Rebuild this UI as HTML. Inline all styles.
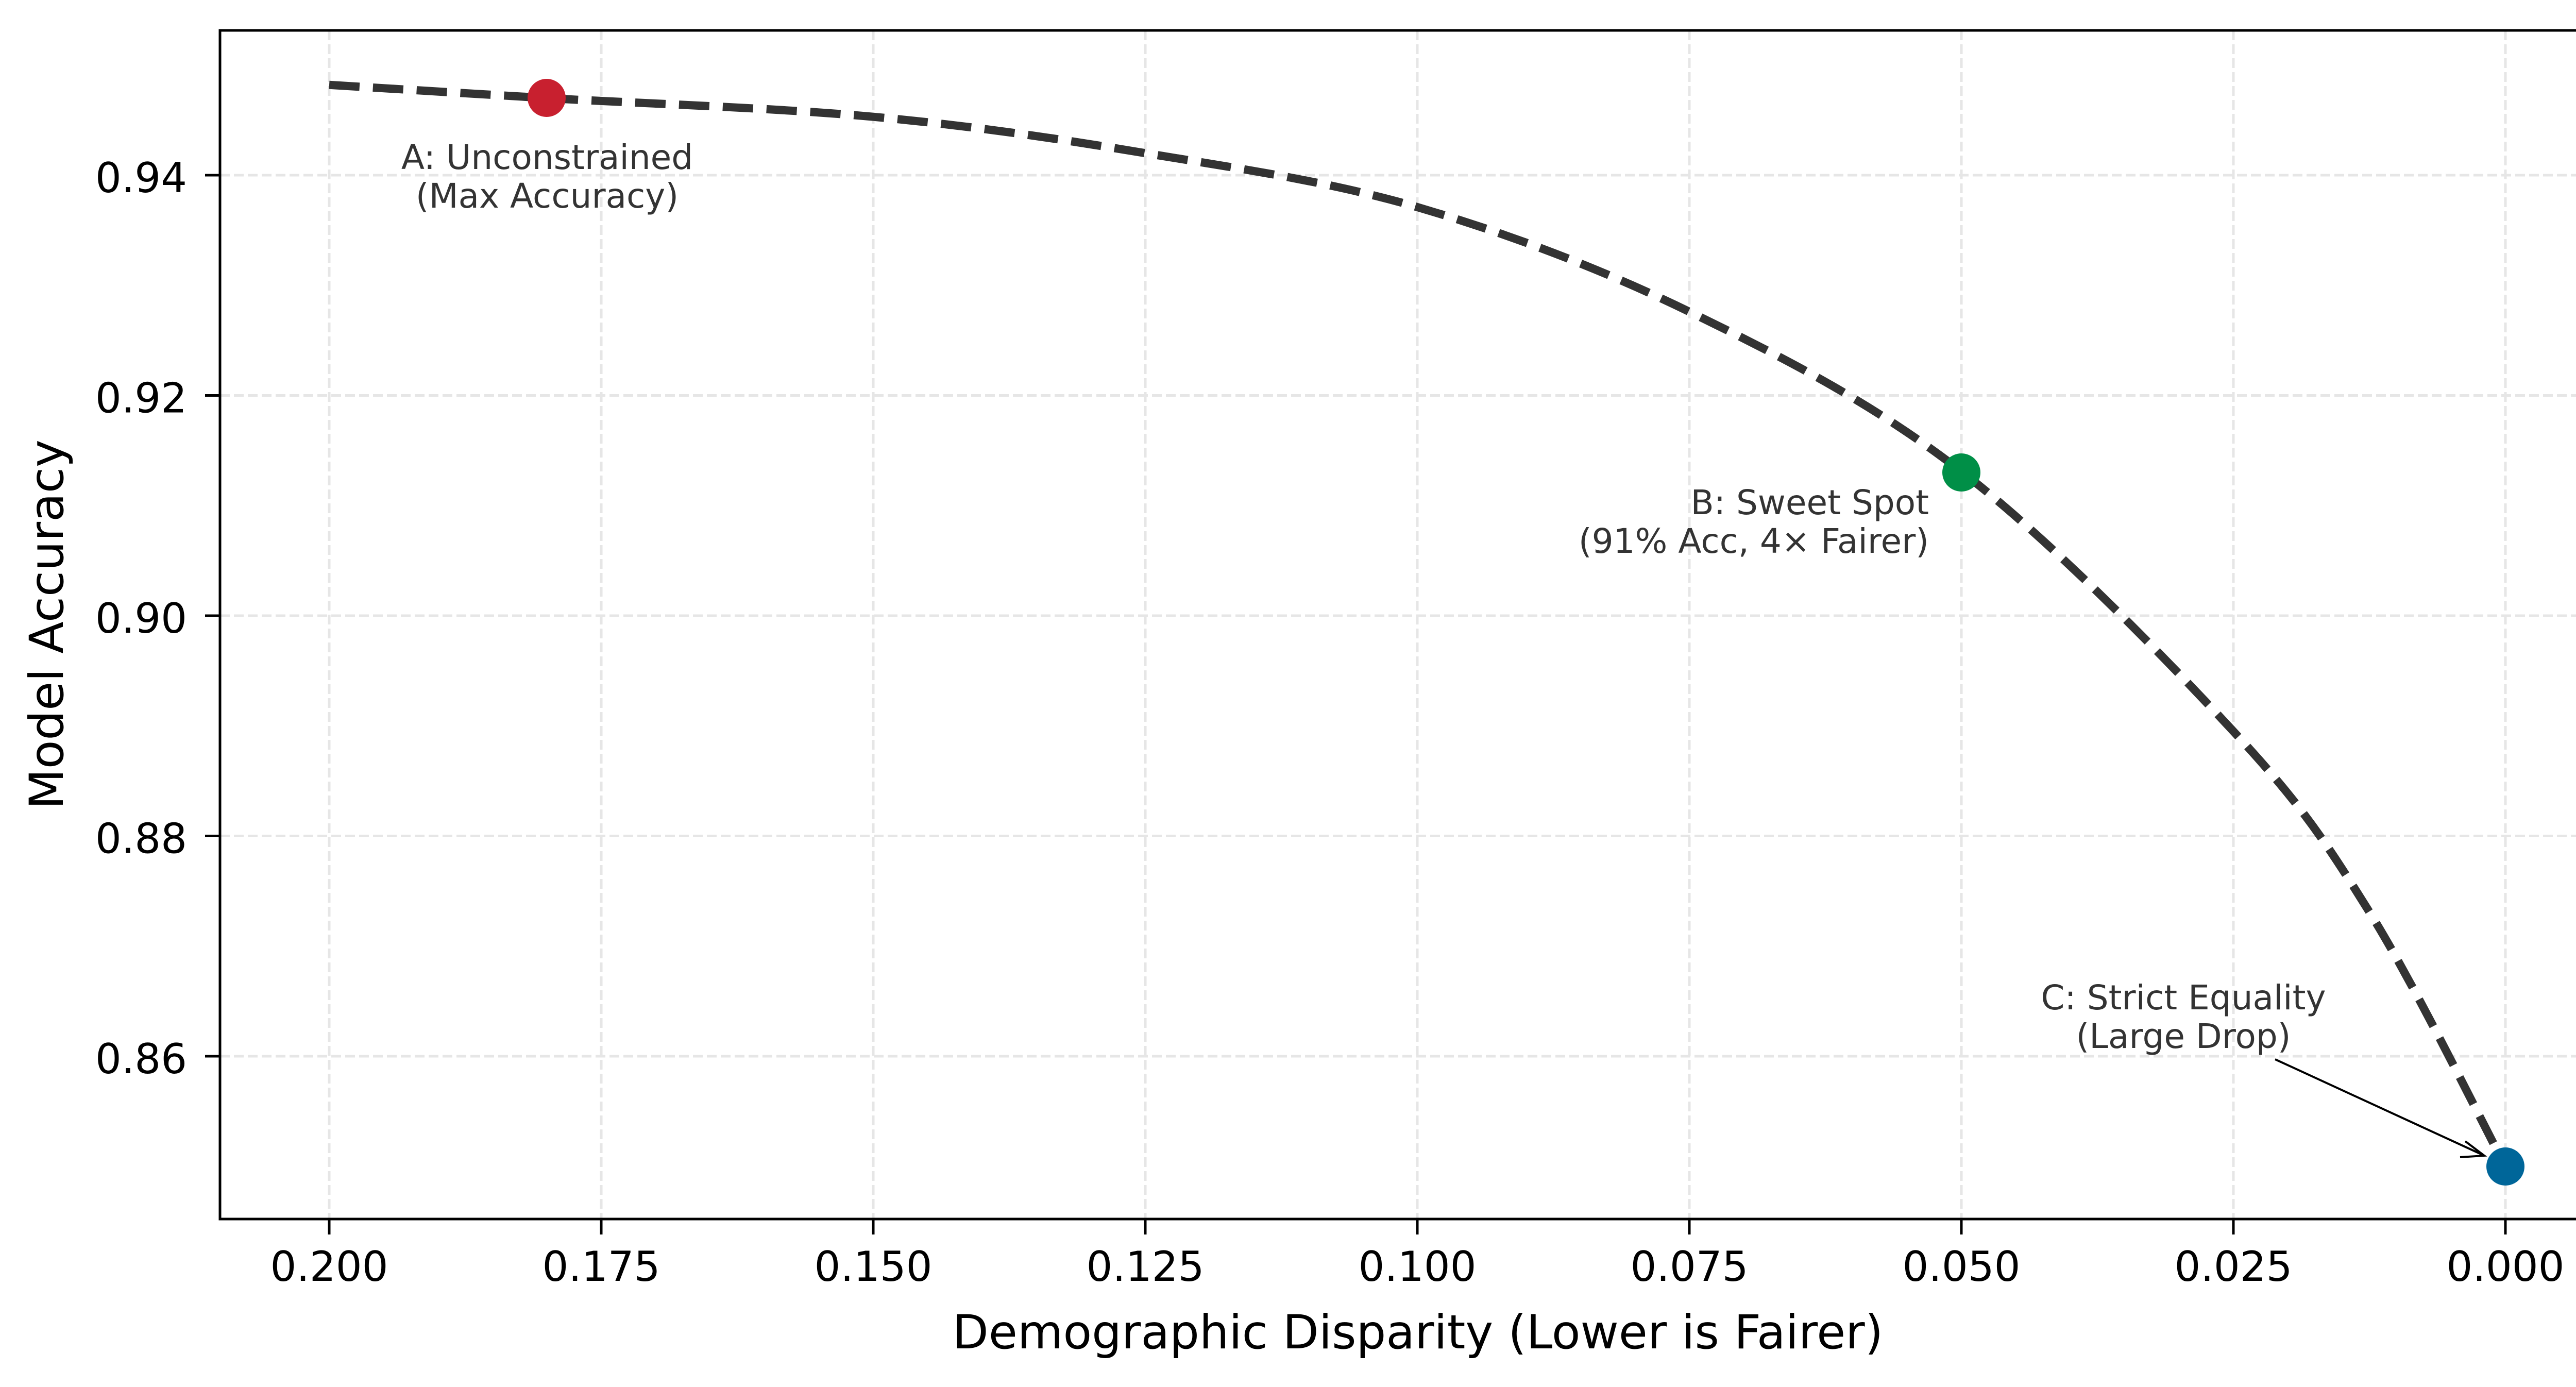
<!DOCTYPE html>
<html><head><meta charset="utf-8"><style>
html,body{margin:0;padding:0;background:#fff;}
svg{display:block;font-family:"DejaVu Sans","Liberation Sans",sans-serif;}
</style></head><body>
<svg id="s" width="5137" height="2692" viewBox="0 0 5137 2692" xmlns="http://www.w3.org/2000/svg">
<rect width="5137" height="2692" fill="#fff"/>
<g id="grid" stroke="#e6e6e6" stroke-width="5" stroke-dasharray="19,8"></g>
<path id="curve" fill="none" stroke="#333" stroke-width="16" stroke-dasharray="59,26"/>
<line x1="4416" y1="2056" x2="4820" y2="2242" stroke="#000" stroke-width="4"/>
<path d="M4785,2215 L4822,2243 L4775,2246" fill="none" stroke="#000" stroke-width="4"/>
<circle cx="1061" cy="190" r="37" fill="#c8202f"/>
<circle cx="3807" cy="917" r="37" fill="#008f47"/>
<circle cx="4863" cy="2264" r="37" fill="#006699"/>
<g fill="#333" font-size="66">
<text x="1062" y="328" text-anchor="middle">A: Unconstrained</text>
<text x="1062" y="403" text-anchor="middle">(Max Accuracy)</text>
<text x="3744" y="998" text-anchor="end">B: Sweet Spot</text>
<text x="3744" y="1073" text-anchor="end">(91% Acc, 4× Fairer)</text>
<text x="4238" y="1959" text-anchor="middle">C: Strict Equality</text>
<text x="4238" y="2034" text-anchor="middle">(Large Drop)</text>
</g>
<rect x="427" y="59" width="4646" height="2307" fill="none" stroke="#000" stroke-width="5"/>
<g id="ticks" stroke="#000" stroke-width="5"></g>
<g id="labels" font-size="80" fill="#000"></g>
<text x="2752" y="2617" font-size="91" text-anchor="middle">Demographic Disparity (Lower is Fairer)</text>
<text transform="translate(122,1212) rotate(-90)" font-size="91" text-anchor="middle">Model Accuracy</text>
</svg>
<script>
var NS="http://www.w3.org/2000/svg";
function X(d){return 639+(0.2-d)*21120;}
function Y(v){return 340+(0.94-v)/0.02*427.5;}
function el(p,t,a,txt){var e=document.createElementNS(NS,t);for(var k in a)e.setAttribute(k,a[k]);if(txt)e.textContent=txt;document.getElementById(p).appendChild(e);}
var xs=[0.2,0.175,0.15,0.125,0.1,0.075,0.05,0.025,0];
xs.forEach(function(d){var x=X(d);
el("grid","line",{x1:x,y1:59,x2:x,y2:2366});
el("ticks","line",{x1:x,y1:2366,x2:x,y2:2396});
el("labels","text",{x:x,y:2486,"text-anchor":"middle"},d.toFixed(3));});
[0.86,0.88,0.90,0.92,0.94].forEach(function(v){var y=Y(v);
el("grid","line",{x1:427,y1:y,x2:5073,y2:y});
el("ticks","line",{x1:398,y1:y,x2:427,y2:y});
el("labels","text",{x:363,y:y+33,"text-anchor":"end"},v.toFixed(2));});
var P=[[0.2,0.9482],[0.18,0.947],[0.15,0.9453],[0.125,0.942],[0.1,0.9371],[0.075,0.9276],[0.05,0.9131],[0.025,0.8895],[0.0125,0.8731],[0,0.85]].map(function(p){return [X(p[0]),Y(p[1])];});
var d="M"+P[0][0]+","+P[0][1];
for(var i=0;i<P.length-1;i++){var p0=P[Math.max(i-1,0)],p1=P[i],p2=P[i+1],p3=P[Math.min(i+2,P.length-1)];
var c1=[p1[0]+(p2[0]-p0[0])/6,p1[1]+(p2[1]-p0[1])/6],c2=[p2[0]-(p3[0]-p1[0])/6,p2[1]-(p3[1]-p1[1])/6];
d+=" C"+c1[0]+","+c1[1]+" "+c2[0]+","+c2[1]+" "+p2[0]+","+p2[1];}
document.getElementById("curve").setAttribute("d",d);
</script>
</body></html>
